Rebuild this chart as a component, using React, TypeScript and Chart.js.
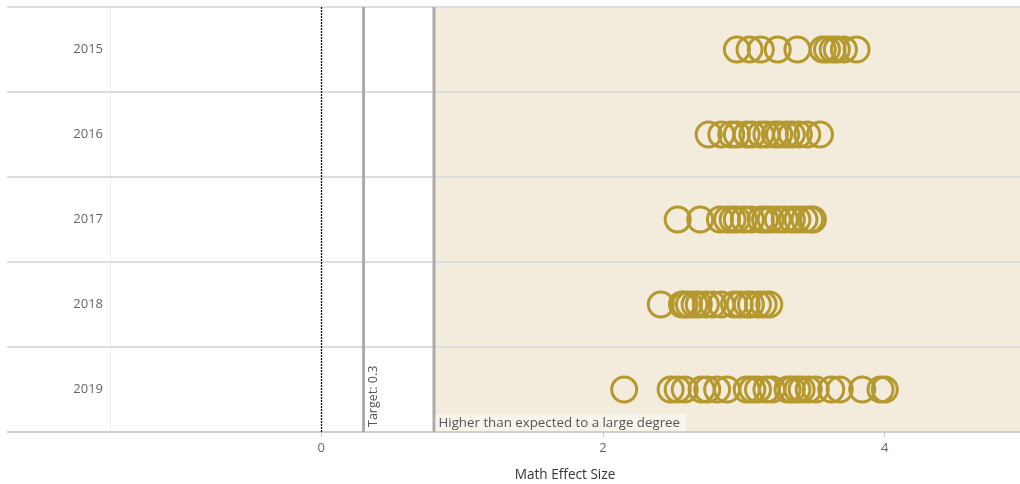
import React, { useEffect, useRef } from "react";
import { Chart, registerables } from "chart.js";

Chart.register(...registerables);

const categories = ["2015", "2016", "2017", "2018", "2019"];
const values2015 = [2.95, 3.04, 3.12, 3.24, 3.38, 3.56, 3.59, 3.63, 3.66, 3.71, 3.8];
const values2016 = [2.75, 2.84, 2.91, 2.95, 3.02, 3.06, 3.12, 3.16, 3.22, 3.25, 3.3, 3.34, 3.39, 3.45, 3.54];
const values2017 = [2.53, 2.69, 2.83, 2.88, 2.92, 2.95, 3.0, 3.05, 3.12, 3.15, 3.19, 3.24, 3.29, 3.34, 3.38, 3.43, 3.47, 3.49];
const values2018 = [2.41, 2.56, 2.58, 2.61, 2.65, 2.68, 2.73, 2.78, 2.84, 2.93, 2.97, 3.02, 3.05, 3.1, 3.14, 3.18];
const values2019 = [2.15, 2.48, 2.53, 2.58, 2.7, 2.74, 2.81, 2.88, 3.02, 3.06, 3.1, 3.16, 3.2, 3.31, 3.34, 3.38, 3.41, 3.46, 3.51, 3.62, 3.68, 3.84, 3.97, 4.0];
const seriesValues = [values2015, values2016, values2017, values2018, values2019];
const xTicks = [0, 2, 4];
const xMin = -1.5;
const xMax = 4.96;
const zeroValue = 0;
const targetValue = 0.3;
const targetLabel = "Target: 0.3";
const largeDegreeValue = 0.8;
const largeDegreeLabel = "Higher than expected to a large degree";
const xTitle = "Math Effect Size";

const FONT = "'Segoe UI', 'Open Sans', 'Noto Sans', sans-serif";

const zeroPadding = (scale: any) => {
  scale.paddingTop = 0;
  scale.paddingBottom = 0;
  scale.paddingLeft = 0;
  scale.paddingRight = 0;
};

const decorPlugin = {
  id: "decor",
  beforeDatasetsDraw(chart: any) {
    const { ctx, chartArea, scales } = chart;
    const x = scales.x;
    const y = scales.y;
    const { top, bottom, left, right } = chartArea;
    ctx.save();
    // shaded region
    const sx = x.getPixelForValue(largeDegreeValue);
    ctx.fillStyle = "#f3ebdb";
    ctx.fillRect(sx, top, right - sx, bottom - top);
    // vertical axis border
    ctx.strokeStyle = "#ececec";
    ctx.lineWidth = 1;
    ctx.beginPath();
    ctx.moveTo(left + 0.5, top);
    ctx.lineTo(left + 0.5, bottom);
    ctx.stroke();
    // horizontal row lines
    const n = categories.length;
    for (let i = 0; i <= n; i++) {
      const py = i === n ? bottom : y.getPixelForValue(i - 0.5);
      ctx.strokeStyle = i === n ? "#cfcfcf" : "#dddddd";
      ctx.lineWidth = 2;
      ctx.beginPath();
      ctx.moveTo(7, py);
      ctx.lineTo(right, py);
      ctx.stroke();
    }
    // zero line
    const zx = Math.round(x.getPixelForValue(zeroValue)) + 0.5;
    ctx.strokeStyle = "#111";
    ctx.lineWidth = 1.3;
    ctx.setLineDash([2, 1]);
    ctx.beginPath();
    ctx.moveTo(zx, top);
    ctx.lineTo(zx, bottom);
    ctx.stroke();
    ctx.setLineDash([]);
    // target line
    const tx = x.getPixelForValue(targetValue);
    ctx.strokeStyle = "#ababab";
    ctx.lineWidth = 3;
    ctx.beginPath();
    ctx.moveTo(tx, top);
    ctx.lineTo(tx, bottom);
    ctx.stroke();
    // large degree line
    ctx.beginPath();
    ctx.moveTo(sx, top);
    ctx.lineTo(sx, bottom);
    ctx.stroke();
    // target label
    ctx.save();
    ctx.translate(tx + 10, bottom - 5);
    ctx.rotate(-Math.PI / 2);
    ctx.font = `12.5px ${FONT}`;
    ctx.fillStyle = "#555";
    ctx.textAlign = "left";
    ctx.textBaseline = "middle";
    ctx.fillText(targetLabel, 0, 0);
    ctx.restore();
    // large degree label with box
    ctx.font = `13.3px ${FONT}`;
    const w = ctx.measureText(largeDegreeLabel).width;
    ctx.fillStyle = "rgba(255,255,255,0.45)";
    ctx.fillRect(sx + 1.5, bottom - 18, w + 9, 17);
    ctx.fillStyle = "#555";
    ctx.textAlign = "left";
    ctx.textBaseline = "middle";
    ctx.fillText(largeDegreeLabel, sx + 4.5, bottom - 9);
    ctx.restore();
  },
};

export default function App() {
  const ref = useRef<HTMLCanvasElement | null>(null);
  useEffect(() => {
    if (!ref.current) return;
    const data: any[] = [];
    seriesValues.forEach((vals, i) => {
      vals.forEach((v) => data.push({ x: v, y: categories[i] }));
    });
    const chart = new Chart(ref.current, {
      type: "scatter",
      data: {
        labels: categories,
        datasets: [
          {
            data,
            pointRadius: 12.5,
            pointHoverRadius: 12.5,
            pointBorderWidth: 3,
            borderColor: "#b5992f",
            backgroundColor: "rgba(0,0,0,0)",
            pointBackgroundColor: "rgba(0,0,0,0)",
            pointBorderColor: "#b5992f",
          },
        ],
      },
      options: {
        animation: false,
        responsive: false,
        maintainAspectRatio: false,
        layout: { autoPadding: false, padding: { top: 7, left: 0, right: 0, bottom: 0 } },
        plugins: { legend: { display: false }, tooltip: { enabled: false } },
        scales: {
          x: {
            type: "linear",
            min: xMin,
            max: xMax,
            afterBuildTicks: (scale: any) => {
              scale.ticks = xTicks.map((v) => ({ value: v }));
            },
            afterFit: (scale: any) => {
              scale.height = 52;
              zeroPadding(scale);
            },
            grid: {
              drawOnChartArea: false,
              drawTicks: true,
              tickLength: 5,
              color: "#c8c8c8",
            },
            border: { display: false },
            ticks: {
              color: "#666",
              font: { family: FONT, size: 13 },
              padding: 3,
              maxRotation: 0,
            },
            title: {
              display: true,
              text: xTitle,
              color: "#333",
              font: { family: FONT, size: 13.6 },
              padding: { top: 0, bottom: 1 },
            },
          },
          y: {
            type: "category",
            labels: categories,
            offset: true,
            afterFit: (scale: any) => {
              scale.width = 110;
              zeroPadding(scale);
            },
            grid: { display: false, drawTicks: false },
            border: { display: false },
            ticks: {
              color: "#666",
              font: { family: FONT, size: 13 },
              padding: 7,
            },
          },
        },
      },
      plugins: [decorPlugin],
    });
    return () => chart.destroy();
  }, []);
  return (
    <div style={{ position: "fixed", left: 0, top: 0, width: 1020, height: 484, background: "#fff" }}>
      <canvas ref={ref} width={1020} height={484} style={{ width: 1020, height: 484 }} />
    </div>
  );
}
